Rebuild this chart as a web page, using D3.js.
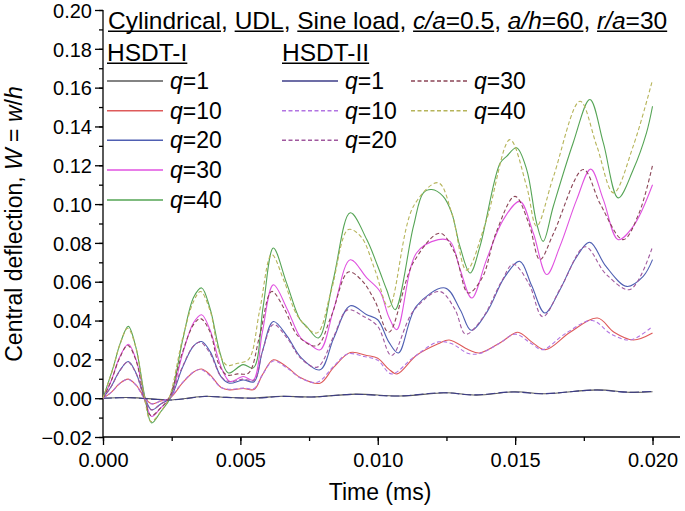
<!DOCTYPE html>
<html><head><meta charset="utf-8">
<script src="https://cdn.jsdelivr.net/npm/d3@7/dist/d3.min.js"></script>
<style>html,body{margin:0;padding:0;background:#fff;} svg{display:block;}</style>
</head><body>
<svg id="chart" width="685" height="511"></svg>
<script>
// ---------- data (time in ms, central deflection W = w/h) ----------
const xTicks = [0, 0.005, 0.010, 0.015, 0.020];
const yTicks = [-0.02, 0, 0.02, 0.04, 0.06, 0.08, 0.10, 0.12, 0.14, 0.16, 0.18, 0.20];
const loads = ["1", "10", "20", "30", "40"];

const hsdt1_q1 = [[0,0],[0.001,0.0003],[0.002,-0.0006],[0.0025,-0.0009],[0.003,-0.0002],[0.0037,0.0010],[0.0045,0.0004],[0.0055,0.0001],[0.0065,0.0010],[0.0076,0.0006],[0.0092,0.0021],[0.0108,0.0011],[0.0125,0.0028],[0.0136,0.0016],[0.0150,0.0033],[0.0161,0.0023],[0.0180,0.0043],[0.0192,0.0030],[0.0200,0.0033]];
const hsdt2_q1 = [[0,0],[0.001,0.0002],[0.002,-0.0007],[0.0025,-0.0009],[0.003,-0.0003],[0.0037,0.0009],[0.0045,0.0004],[0.0055,0.0000],[0.0065,0.0009],[0.0076,0.0006],[0.0091,0.0020],[0.0107,0.0011],[0.0124,0.0028],[0.0135,0.0017],[0.0149,0.0032],[0.0160,0.0023],[0.0179,0.0042],[0.0191,0.0031],[0.0200,0.0035]];

const hsdt1_q10 = [[0,0],[0.0003,0.003],[0.0006,0.0075],[0.00092,0.0098],[0.0012,0.0068],[0.00153,0.0],[0.00177,-0.0029],[0.0021,-0.0015],[0.00244,0],[0.0029,0.008],[0.0033,0.0135],[0.00359,0.015],[0.0039,0.012],[0.0043,0.0055],[0.0046,0.0043],[0.0051,0.005],[0.0055,0.0045],[0.0058,0.012],[0.0062,0.0198],[0.0067,0.016],[0.0072,0.0105],[0.0079,0.0077],[0.0084,0.016],[0.0090,0.0235],[0.0096,0.022],[0.0100,0.0206],[0.0104,0.015],[0.0107,0.0125],[0.0114,0.022],[0.0122,0.028],[0.0126,0.030],[0.0133,0.025],[0.0137,0.0233],[0.0145,0.029],[0.0151,0.034],[0.0156,0.029],[0.0161,0.025],[0.0170,0.034],[0.0180,0.0413],[0.0186,0.034],[0.0193,0.030],[0.0200,0.0336]];
const hsdt2_q10 = [[0,0],[0.0003,0.003],[0.0006,0.0074],[0.0009,0.0097],[0.0012,0.0067],[0.0015,0.0],[0.00175,-0.0029],[0.0021,-0.0015],[0.0024,0],[0.0029,0.0082],[0.0033,0.0135],[0.00355,0.0148],[0.0039,0.0115],[0.0043,0.0055],[0.0046,0.0046],[0.0051,0.0052],[0.0055,0.005],[0.0058,0.012],[0.0062,0.0192],[0.0067,0.0155],[0.0072,0.0103],[0.0078,0.0082],[0.0084,0.0165],[0.0089,0.0228],[0.0095,0.0215],[0.0100,0.0195],[0.0105,0.0125],[0.0113,0.021],[0.0122,0.029],[0.0127,0.028],[0.0133,0.023],[0.0137,0.023],[0.0144,0.028],[0.0150,0.033],[0.0156,0.028],[0.0160,0.025],[0.0168,0.033],[0.0178,0.040],[0.0185,0.033],[0.0192,0.030],[0.0200,0.037]];

const hsdt1_q20 = [[0,0],[0.0003,0.006],[0.0006,0.014],[0.00092,0.0189],[0.0012,0.013],[0.00153,0.0],[0.00177,-0.006],[0.0021,-0.003],[0.00244,0],[0.0029,0.016],[0.0033,0.027],[0.00359,0.0292],[0.0039,0.024],[0.0043,0.011],[0.0046,0.0077],[0.0051,0.0094],[0.0055,0.0085],[0.0058,0.024],[0.0062,0.0395],[0.0067,0.032],[0.0072,0.021],[0.0079,0.0146],[0.0084,0.031],[0.0090,0.0476],[0.0096,0.043],[0.0100,0.0404],[0.0104,0.029],[0.01075,0.0233],[0.0114,0.0473],[0.01245,0.0568],[0.0130,0.0456],[0.0134,0.035],[0.0140,0.045],[0.0146,0.062],[0.01517,0.0705],[0.0156,0.058],[0.01608,0.0439],[0.0166,0.055],[0.0172,0.072],[0.01772,0.0803],[0.0183,0.068],[0.01906,0.0576],[0.01966,0.0628],[0.0200,0.0714]];
const hsdt2_q20 = [[0,0],[0.0003,0.006],[0.0006,0.0138],[0.0009,0.0187],[0.0012,0.0128],[0.0015,0.0],[0.00175,-0.006],[0.0021,-0.003],[0.0024,0],[0.0029,0.0165],[0.0033,0.027],[0.00355,0.0288],[0.0039,0.023],[0.0043,0.011],[0.0046,0.0085],[0.0051,0.0098],[0.0055,0.0092],[0.0058,0.024],[0.0062,0.038],[0.0067,0.031],[0.0072,0.0205],[0.0078,0.016],[0.0084,0.032],[0.0089,0.0455],[0.0095,0.042],[0.0100,0.037],[0.0105,0.022],[0.0113,0.045],[0.01225,0.055],[0.0128,0.046],[0.0132,0.033],[0.0138,0.041],[0.0145,0.060],[0.01493,0.069],[0.0155,0.059],[0.0160,0.042],[0.0167,0.058],[0.01755,0.078],[0.0183,0.064],[0.01918,0.056],[0.0200,0.078]];

const hsdt1_q30 = [[0,0],[0.0003,0.009],[0.0006,0.021],[0.00092,0.0278],[0.0012,0.020],[0.00153,0.0],[0.00177,-0.0094],[0.0021,-0.005],[0.00244,0],[0.0029,0.023],[0.0033,0.039],[0.00359,0.043],[0.0039,0.035],[0.0043,0.016],[0.00462,0.0086],[0.0051,0.0112],[0.00547,0.0094],[0.0058,0.034],[0.0062,0.0584],[0.0067,0.046],[0.0072,0.031],[0.0075,0.028],[0.0079,0.0249],[0.0084,0.046],[0.0090,0.0713],[0.0096,0.062],[0.01008,0.055],[0.0104,0.042],[0.01069,0.0353],[0.01141,0.0748],[0.0122,0.0817],[0.01263,0.0808],[0.0130,0.0662],[0.01342,0.0516],[0.01396,0.0714],[0.01457,0.092],[0.01517,0.1014],[0.01566,0.0851],[0.01615,0.0637],[0.01663,0.0782],[0.01724,0.1023],[0.01775,0.118],[0.01821,0.1023],[0.01875,0.0817],[0.0193,0.0886],[0.0200,0.110]];
const hsdt2_q30 = [[0,0],[0.0003,0.009],[0.0006,0.0205],[0.0009,0.0272],[0.0012,0.0195],[0.0015,0.0],[0.00175,-0.009],[0.0021,-0.005],[0.0024,0],[0.0029,0.024],[0.0033,0.038],[0.00355,0.041],[0.0039,0.034],[0.0042,0.018],[0.0045,0.012],[0.0049,0.0125],[0.0053,0.013],[0.0057,0.032],[0.00614,0.055],[0.0066,0.046],[0.0071,0.032],[0.00778,0.027],[0.0083,0.042],[0.00893,0.065],[0.0094,0.061],[0.0099,0.050],[0.0104,0.034],[0.0113,0.070],[0.01226,0.085],[0.0128,0.075],[0.01329,0.0542],[0.0138,0.062],[0.0143,0.085],[0.01499,0.104],[0.0155,0.090],[0.0159,0.0714],[0.0164,0.085],[0.01748,0.1178],[0.0181,0.100],[0.01893,0.0817],[0.0195,0.095],[0.0200,0.120]];

const hsdt1_q40 = [[0,0],[0.00038,0.0163],[0.00062,0.028],[0.00092,0.037],[0.0012,0.026],[0.00153,0.0],[0.00177,-0.0128],[0.0021,-0.007],[0.00244,0],[0.0029,0.030],[0.0033,0.052],[0.00359,0.0568],[0.0039,0.046],[0.00426,0.0233],[0.00456,0.013],[0.0051,0.0173],[0.00547,0.0156],[0.00583,0.0473],[0.0062,0.0774],[0.00668,0.0594],[0.00717,0.0405],[0.00741,0.037],[0.00784,0.031],[0.00838,0.061],[0.0090,0.0955],[0.0096,0.0817],[0.0100,0.068],[0.01032,0.056],[0.01063,0.0456],[0.0113,0.0886],[0.01166,0.1058],[0.01196,0.1075],[0.01238,0.104],[0.01269,0.0955],[0.01299,0.0782],[0.01336,0.0645],[0.01372,0.0782],[0.01445,0.121],[0.01469,0.1246],[0.01505,0.129],[0.01542,0.1178],[0.01578,0.0903],[0.01602,0.0808],[0.01639,0.0989],[0.01711,0.1315],[0.01772,0.1539],[0.01821,0.1315],[0.01875,0.1032],[0.0193,0.1178],[0.01978,0.1367],[0.0200,0.1504]];
const hsdt2_q40 = [[0,0],[0.00038,0.016],[0.0006,0.027],[0.0009,0.036],[0.0012,0.026],[0.0015,0.001],[0.00175,-0.012],[0.0021,-0.007],[0.0024,0],[0.0029,0.031],[0.0033,0.050],[0.00355,0.055],[0.0039,0.045],[0.0042,0.025],[0.0045,0.017],[0.0049,0.018],[0.0053,0.020],[0.0057,0.045],[0.00614,0.074],[0.0066,0.060],[0.0071,0.042],[0.00778,0.0336],[0.0083,0.055],[0.00893,0.0869],[0.0094,0.083],[0.0099,0.066],[0.0104,0.047],[0.0113,0.0989],[0.0122,0.111],[0.0127,0.095],[0.01323,0.066],[0.01396,0.092],[0.01481,0.1332],[0.01542,0.109],[0.01578,0.0886],[0.01639,0.114],[0.01736,0.153],[0.01797,0.130],[0.01858,0.1058],[0.0193,0.130],[0.0200,0.164]];

const seriesI  = [hsdt1_q1, hsdt1_q10, hsdt1_q20, hsdt1_q30, hsdt1_q40];
const seriesII = [hsdt2_q1, hsdt2_q10, hsdt2_q20, hsdt2_q30, hsdt2_q40];
const colorsI  = ["#5a5a5a", "#de5a5a", "#4f5fb2", "#e052e0", "#55a455"];
const colorsII = ["#3d3d88", "#b274e2", "#a0589e", "#8a4456", "#b6b45a"];
const dashII   = ["9,3", "4,2.5", "4,2.5", "4,2.5", "4,2.5"];
const legendDashII = [null, "4,2.5", "4,2.5", "4,2.5", "4,2.5"];

// ---------- layout ----------
const svg = d3.select("#chart");
svg.append("rect").attr("width", 685).attr("height", 511).attr("fill", "#fff");
const x = d3.scaleLinear().domain([0, 0.021]).range([103, 680]);
const y = d3.scaleLinear().domain([-0.02, 0.20]).range([437, 10]);
const FONT = "'Liberation Sans', Arial, Helvetica, sans-serif";

// axes
const xMinor = d3.range(0, 0.0201, 0.0025);
const yMinor = d3.range(-0.02, 0.2001, 0.01);
const gx = svg.append("g").attr("transform", "translate(0,437)");
gx.call(d3.axisBottom(x).tickValues(xMinor).tickSize(4).tickFormat(""));
gx.call(g => g.select(".domain").remove());
const gx2 = svg.append("g").attr("transform", "translate(0,437)");
gx2.call(d3.axisBottom(x).tickValues(xTicks).tickSize(8).tickPadding(6).tickFormat(d3.format(".3f")));
const gy = svg.append("g").attr("transform", "translate(103,0)");
gy.call(d3.axisLeft(y).tickValues(yMinor).tickSize(4).tickFormat(""));
gy.call(g => g.select(".domain").remove());
const gy2 = svg.append("g").attr("transform", "translate(103,0)");
gy2.call(d3.axisLeft(y).tickValues(yTicks).tickSize(8).tickPadding(3).tickFormat(d3.format(".2f")));
svg.selectAll(".tick line, .domain").attr("stroke", "#000").attr("stroke-width", 1.3);
gx2.select(".domain").attr("d", "M103,0H680");
gy2.select(".domain").attr("d", "M0,10V437");
svg.selectAll(".tick text").attr("font-family", FONT).attr("font-size", 20).attr("fill", "#000");
gx2.selectAll(".tick text").attr("dy", "0.78em");
gy2.selectAll(".tick text").attr("dy", "0.36em");

// axis titles
svg.append("text").attr("x", 380).attr("y", 500).attr("text-anchor", "middle")
  .attr("font-family", FONT).attr("font-size", 23).text("Time (ms)");
const yt = svg.append("text").attr("transform", "translate(22,224) rotate(-90)").attr("text-anchor", "middle")
  .attr("font-family", FONT).attr("font-size", 23);
yt.append("tspan").text("Central deflection, ");
yt.append("tspan").attr("font-style", "italic").text("W");
yt.append("tspan").text(" = ");
yt.append("tspan").attr("font-style", "italic").text("w");
yt.append("tspan").text("/");
yt.append("tspan").attr("font-style", "italic").text("h");

// curves
const line = d3.line().x(d => x(d[0])).y(d => y(d[1])).curve(d3.curveCatmullRom.alpha(0.5));
const plot = svg.append("g");
seriesI.forEach((s, i) => {
  plot.append("path").attr("d", line(s)).attr("fill", "none").attr("stroke", colorsI[i]).attr("stroke-width", 1.1);
});
seriesII.forEach((s, i) => {
  plot.append("path").attr("d", line(s)).attr("fill", "none").attr("stroke", colorsII[i])
    .attr("stroke-width", 1.1).attr("stroke-dasharray", dashII[i]);
});

// title with underlines
function richText(xp, yp, size, parts) {
  const t = svg.append("text").attr("x", xp).attr("y", yp).attr("font-family", FONT).attr("font-size", size);
  const spans = parts.map(p => {
    const ts = t.append("tspan").text(p.s);
    if (p.i) ts.attr("font-style", "italic");
    return {node: ts.node(), u: p.u};
  });
  let cur = null; const groups = [];
  spans.forEach(sp => {
    if (sp.u) {
      const x0 = sp.node.getStartPositionOfChar(0).x;
      const n = sp.node.getNumberOfChars();
      const x1 = sp.node.getEndPositionOfChar(n - 1).x;
      if (cur && sp.u === cur.id) { cur.x1 = x1; } else { cur = {id: sp.u, x0, x1}; groups.push(cur); }
    } else cur = null;
  });
  groups.forEach(g => svg.append("line").attr("x1", g.x0).attr("x2", g.x1)
    .attr("y1", yp + 2.8).attr("y2", yp + 2.8).attr("stroke", "#000").attr("stroke-width", 1.5));
}
richText(108, 28.5, 24.5, [
  {s: "Cylindrical", u: 1}, {s: ", "}, {s: "UDL", u: 2}, {s: ", "}, {s: "Sine load", u: 3}, {s: ", "},
  {s: "c/a", i: 1, u: 4}, {s: "=0.5", u: 4}, {s: ", "},
  {s: "a/h", i: 1, u: 5}, {s: "=60", u: 5}, {s: ", "},
  {s: "r/a", i: 1, u: 6}, {s: "=30", u: 6}
]);
richText(107, 60.5, 24.5, [{s: "HSDT-I", u: 1}]);
richText(282, 60.5, 24.5, [{s: "HSDT-II", u: 1}]);

// legend
const rowY = [81, 110.7, 140.3, 170, 200];
function legendItem(lx, ly, color, dash, label) {
  svg.append("line").attr("x1", lx).attr("x2", lx + 56).attr("y1", ly).attr("y2", ly)
    .attr("stroke", color).attr("stroke-width", 1.4).attr("stroke-dasharray", dash || null);
  const t = svg.append("text").attr("x", lx + 63).attr("y", ly + 8).attr("font-family", FONT).attr("font-size", 23);
  t.append("tspan").attr("font-style", "italic").text("q");
  t.append("tspan").text("=" + label);
}
loads.forEach((q, i) => legendItem(107, rowY[i], colorsI[i], null, q));
loads.forEach((q, i) => {
  if (i < 3) legendItem(282, rowY[i], colorsII[i], legendDashII[i], q);
  else legendItem(411, rowY[i - 3], colorsII[i], legendDashII[i], q);
});
</script>
</body></html>
